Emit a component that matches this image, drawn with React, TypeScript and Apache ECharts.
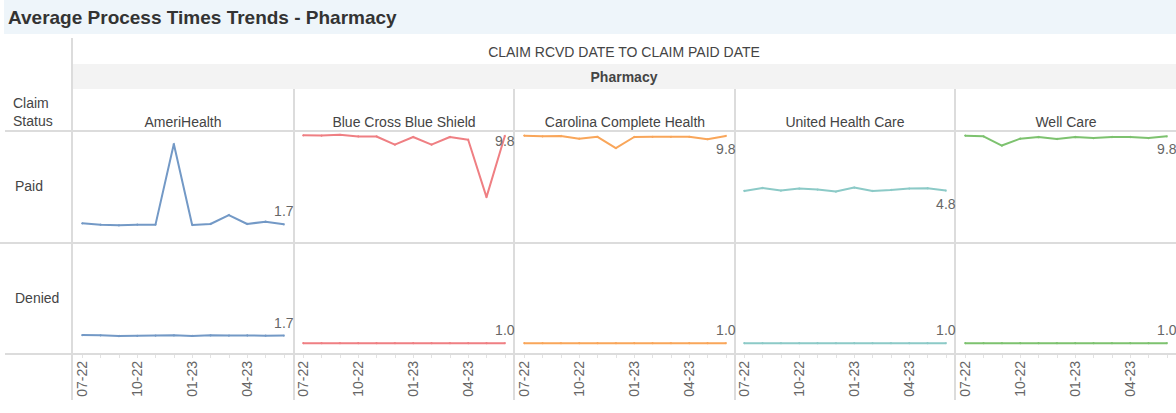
import React, { useEffect, useRef } from "react";
import * as echarts from "echarts";

const months = ["07-22", "08-22", "09-22", "10-22", "11-22", "12-22", "01-23", "02-23", "03-23", "04-23", "05-23", "06-23"];
const payers = ["AmeriHealth", "Blue Cross Blue Shield", "Carolina Complete Health", "United Health Care", "Well Care"];
const statuses = ["Paid", "Denied"];

const paidAmeriHealth = [1.8, 1.68, 1.62, 1.68, 1.68, 9.06, 1.65, 1.74, 2.56, 1.74, 1.95, 1.71];
const paidBCBS = [9.85, 9.83, 9.9, 9.75, 9.75, 9.0, 9.7, 9.0, 9.7, 9.45, 4.2, 9.8];
const paidCarolina = [9.82, 9.76, 9.79, 9.55, 9.72, 8.68, 9.7, 9.72, 9.72, 9.72, 9.5, 9.8];
const paidUHC = [4.76, 5.04, 4.8, 4.98, 4.89, 4.71, 5.07, 4.76, 4.85, 4.98, 5.01, 4.8];
const paidWellCare = [9.82, 9.76, 8.92, 9.55, 9.7, 9.52, 9.7, 9.6, 9.7, 9.7, 9.6, 9.76];

const deniedAmeriHealth = [1.75, 1.72, 1.66, 1.68, 1.7, 1.72, 1.67, 1.72, 1.7, 1.71, 1.69, 1.7];
const deniedBCBS = [1.0, 1.0, 1.0, 1.0, 1.0, 1.0, 1.0, 1.0, 1.0, 1.0, 1.0, 1.0];
const deniedCarolina = [1.0, 1.0, 1.0, 1.0, 1.0, 1.0, 1.0, 1.0, 1.0, 1.0, 1.0, 1.0];
const deniedUHC = [1.0, 1.0, 1.0, 1.0, 1.0, 1.0, 1.0, 1.0, 1.0, 1.0, 1.0, 1.0];
const deniedWellCare = [1.0, 1.0, 1.0, 1.0, 1.0, 1.0, 1.0, 1.0, 1.0, 1.0, 1.0, 1.0];

const paidRows = [paidAmeriHealth, paidBCBS, paidCarolina, paidUHC, paidWellCare];
const deniedRows = [deniedAmeriHealth, deniedBCBS, deniedCarolina, deniedUHC, deniedWellCare];

const colors = ["#7399c6", "#ef7f83", "#f9a65a", "#8ccac7", "#7dc26f"];
const FONT = "Liberation Sans, Arial, sans-serif";

export default function App() {
  const ref = useRef<HTMLDivElement>(null);

  useEffect(() => {
    if (!ref.current) return;
    const chart = echarts.init(ref.current, undefined, { renderer: "svg" });

    const colLefts = [73, 294, 515, 735, 956];
    const colWidth = 220;
    const rowTops = [131, 243];
    const rowHeights = [112, 111];
    const paidLabelPos = ["top", "inside", "bottom", "bottom", "bottom"];

    const grids: any[] = [];
    const xAxes: any[] = [];
    const yAxes: any[] = [];
    const series: any[] = [];

    statuses.forEach((st, r) => {
      const rows = r === 0 ? paidRows : deniedRows;
      payers.forEach((p, c) => {
        const idx = grids.length;
        grids.push({ left: colLefts[c], top: rowTops[r], width: colWidth, height: rowHeights[r], containLabel: false });
        xAxes.push({
          type: "category",
          gridIndex: idx,
          data: months,
          boundaryGap: true,
          axisLine: { show: false },
          axisTick: r === 1 ? { show: true, alignWithLabel: true, interval: 0, length: 4, lineStyle: { color: "#e2e2e2" } } : { show: false },
          axisLabel:
            r === 1
              ? { show: true, rotate: 90, interval: 2, fontSize: 14, color: "#666", fontFamily: FONT, margin: 7 }
              : { show: false },
          splitLine: { show: false },
        });
        yAxes.push({ type: "value", gridIndex: idx, min: 0, max: 10.25, show: false, splitLine: { show: false } });
        const vals = rows[c];
        const pos = r === 0 ? paidLabelPos[c] : "top";
        const data = vals.map((v, i) =>
          i === vals.length - 1
            ? {
                value: v,
                label: {
                  show: true,
                  position: pos,
                  distance: 5,
                  offset: pos === "inside" ? [0, 5] : [0, 0],
                  formatter: (d: any) => Number(d.value).toFixed(1),
                  fontSize: 14,
                  color: "#666",
                  fontFamily: FONT,
                },
              }
            : v
        );
        series.push({
          type: "line",
          name: p + " " + st,
          xAxisIndex: idx,
          yAxisIndex: idx,
          data,
          symbol: "circle",
          symbolSize: 2,
          showSymbol: true,
          lineStyle: { color: colors[c], width: 2 },
          itemStyle: { color: colors[c] },
          label: { show: false },
          z: 3,
        });
      });
    });

    const lineStyle = { stroke: "#dcdcdc", lineWidth: 2 };
    const headerCenters = colLefts.map((l) => l + colWidth / 2);

    const graphic: any[] = [
      { type: "rect", shape: { x: 4, y: 0, width: 1172, height: 34 }, style: { fill: "#eef5fa" }, z: 0 },
      {
        type: "text",
        x: 8,
        y: 17,
        style: { text: "Average Process Times Trends - Pharmacy", font: `bold 19px ${FONT}`, fill: "#333", verticalAlign: "middle" },
      },
      {
        type: "text",
        x: 624,
        y: 52,
        style: { text: "CLAIM RCVD DATE TO CLAIM PAID DATE", font: `14px ${FONT}`, fill: "#444", align: "center", verticalAlign: "middle" },
      },
      { type: "rect", shape: { x: 73, y: 64, width: 1103, height: 25 }, style: { fill: "#f3f3f3" }, z: 0 },
      {
        type: "text",
        x: 624,
        y: 77,
        style: { text: "Pharmacy", font: `bold 14px ${FONT}`, fill: "#444", align: "center", verticalAlign: "middle" },
      },
      { type: "text", x: 13, y: 103, style: { text: "Claim", font: `14px ${FONT}`, fill: "#444", verticalAlign: "middle" } },
      { type: "text", x: 13, y: 121, style: { text: "Status", font: `14px ${FONT}`, fill: "#444", verticalAlign: "middle" } },
      { type: "text", x: 15, y: 186, style: { text: statuses[0], font: `14px ${FONT}`, fill: "#444", verticalAlign: "middle" } },
      { type: "text", x: 15, y: 298, style: { text: statuses[1], font: `14px ${FONT}`, fill: "#444", verticalAlign: "middle" } },
      { type: "line", shape: { x1: 5, y1: 131, x2: 1176, y2: 131 }, style: lineStyle, z: 1 },
      { type: "line", shape: { x1: 0, y1: 243, x2: 1176, y2: 243 }, style: lineStyle, z: 1 },
      { type: "line", shape: { x1: 5, y1: 354, x2: 1176, y2: 354 }, style: lineStyle, z: 1 },
      { type: "line", shape: { x1: 72, y1: 38, x2: 72, y2: 400 }, style: lineStyle, z: 1 },
    ];
    [294, 514, 735, 955].forEach((x) => {
      graphic.push({ type: "line", shape: { x1: x, y1: 89, x2: x, y2: 400 }, style: lineStyle, z: 1 });
    });
    payers.forEach((p, c) => {
      graphic.push({
        type: "text",
        x: headerCenters[c],
        y: 122,
        style: { text: p, font: `14px ${FONT}`, fill: "#444", align: "center", verticalAlign: "middle" },
      });
    });

    chart.setOption({
      animation: false,
      backgroundColor: "#ffffff",
      grid: grids,
      xAxis: xAxes,
      yAxis: yAxes,
      series,
      graphic,
    });

    return () => chart.dispose();
  }, []);

  return <div ref={ref} style={{ position: "fixed", left: 0, top: 0, width: 1176, height: 413 }} />;
}
